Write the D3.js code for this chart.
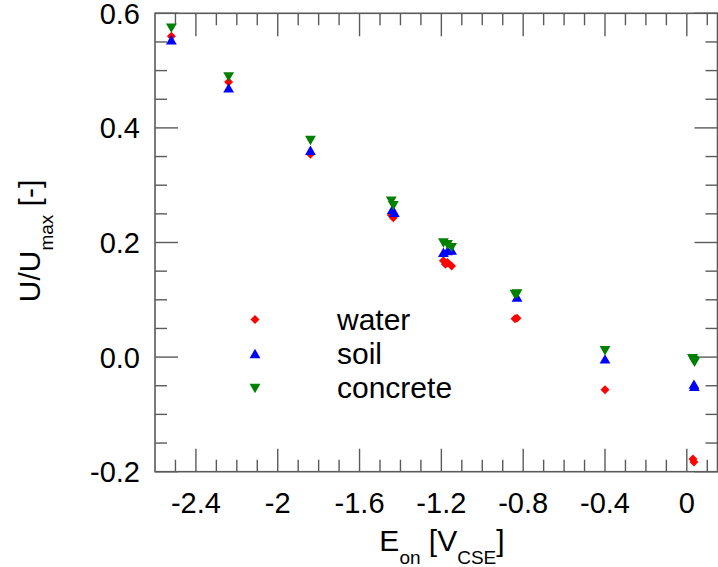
<!DOCTYPE html>
<html>
<head>
<meta charset="utf-8">
<script src="https://cdn.jsdelivr.net/npm/d3@7"></script>
<style>
  body { margin: 0; background: #fff; }
  text { font-family: "Liberation Sans", Arial, sans-serif; fill: #000; }
</style>
</head>
<body>
<svg id="chart" width="718" height="567"></svg>
<script>
// values: [E_on, U/Umax]
var water = [
  [-2.52, 0.560], [-2.24, 0.480], [-1.84, 0.354],
  [-1.445, 0.248], [-1.435, 0.243],
  [-1.19, 0.168], [-1.18, 0.162], [-1.17, 0.165], [-1.15, 0.159],
  [-0.84, 0.067], [-0.83, 0.068],
  [-0.40, -0.057],
  [0.03, -0.178], [0.035, -0.183]
];
var soil = [
  [-2.52, 0.553], [-2.24, 0.469], [-1.84, 0.360],
  [-1.44, 0.257], [-1.43, 0.252],
  [-1.19, 0.182], [-1.17, 0.185], [-1.15, 0.186],
  [-0.83, 0.104],
  [-0.40, -0.004],
  [0.035, -0.048], [0.037, -0.052]
];
var concrete = [
  [-2.52, 0.575], [-2.24, 0.490], [-1.84, 0.379],
  [-1.445, 0.273], [-1.435, 0.265],
  [-1.19, 0.200], [-1.17, 0.197], [-1.15, 0.192],
  [-0.84, 0.110], [-0.83, 0.111],
  [-0.40, 0.012],
  [0.028, -0.002], [0.033, -0.005], [0.038, -0.008]
];
var seriesNames = ["water", "soil", "concrete"];
var seriesColors = ["#ff0000", "#0000ff", "#008000"];
var xMajorTicks = [-2.4, -2, -1.6, -1.2, -0.8, -0.4, 0];
var yMajorTicks = [-0.2, 0, 0.2, 0.4, 0.6];

(function () {
  var svg = d3.select("#chart");
  var pLeft = 155, pRight = 717.5, pTop = 13.3, pBottom = 471.7;

  var x = d3.scaleLinear().domain([-2.6, 0.15]).range([pLeft, pRight]);
  var y = d3.scaleLinear().domain([-0.2, 0.6]).range([pBottom, pTop]);

  var axisColor = "#5a5a5a";
  var majorLen = 23, minorLen = 12;

  // minor tick values
  var xMinor = d3.range(-25, 2).map(function (d) { return d / 10; })
    .filter(function (v) { return Math.abs(Math.round(v * 10) % 4) != 0; });
  var yMinor = d3.range(-4, 13).map(function (d) { return d / 20; })
    .filter(function (v) { return Math.abs(Math.round(v * 20) % 4) != 0; });

  var ticks = svg.append("g").attr("stroke", axisColor).attr("stroke-width", 1.4);
  function xTicks(vals, len) {
    vals.forEach(function (v) {
      ticks.append("line").attr("x1", x(v)).attr("x2", x(v)).attr("y1", pBottom).attr("y2", pBottom - len);
      ticks.append("line").attr("x1", x(v)).attr("x2", x(v)).attr("y1", pTop).attr("y2", pTop + len);
    });
  }
  function yTicks(vals, len) {
    vals.forEach(function (v) {
      ticks.append("line").attr("x1", pLeft).attr("x2", pLeft + len).attr("y1", y(v)).attr("y2", y(v));
      ticks.append("line").attr("x1", pRight).attr("x2", pRight - len).attr("y1", y(v)).attr("y2", y(v));
    });
  }
  xTicks(xMajorTicks, majorLen);
  xTicks(xMinor, minorLen);
  yTicks(yMajorTicks, majorLen);
  yTicks(yMinor, minorLen);

  svg.append("rect")
    .attr("x", pLeft).attr("y", pTop)
    .attr("width", pRight - pLeft).attr("height", pBottom - pTop)
    .attr("fill", "none").attr("stroke", axisColor).attr("stroke-width", 1.6);

  // tick labels (plain hyphen as minus, like the original)
  svg.append("g").selectAll("text").data(xMajorTicks).enter().append("text")
    .attr("x", function (d) { return x(d); })
    .attr("y", 513)
    .attr("text-anchor", "middle")
    .attr("font-size", 29)
    .text(function (d) { return String(d); });

  svg.append("g").selectAll("text").data(yMajorTicks).enter().append("text")
    .attr("x", 140)
    .attr("y", function (d) { return y(d); })
    .attr("dy", "0.36em")
    .attr("text-anchor", "end")
    .attr("font-size", 29)
    .text(function (d) { return d.toFixed(1); });

  // axis titles
  var xt = svg.append("text").attr("x", 442).attr("y", 551).attr("text-anchor", "middle").attr("font-size", 30);
  xt.append("tspan").text("E");
  xt.append("tspan").attr("dy", 13).attr("font-size", 19).text("on");
  xt.append("tspan").attr("dy", -13).text(" [V");
  xt.append("tspan").attr("dy", 13).attr("font-size", 19).text("CSE");
  xt.append("tspan").attr("dy", -13).text("]");

  var yt = svg.append("text").attr("transform", "translate(40,241) rotate(-90)")
    .attr("text-anchor", "middle").attr("font-size", 30);
  yt.append("tspan").text("U/U");
  yt.append("tspan").attr("dy", 13).attr("font-size", 19).text("max");
  yt.append("tspan").attr("dy", -13).text(" [-]");

  // markers
  var diamond = d3.symbol().type(d3.symbolSquare).size(40);
  var triUp = "M0,-5.2L5.4,4.2L-5.4,4.2Z";
  var triDown = "M0,5.2L5.4,-4.2L-5.4,-4.2Z";
  function markerPath(i) { return i == 0 ? diamond() : (i == 1 ? triUp : triDown); }
  function markerRot(i) { return i == 0 ? " rotate(45)" : ""; }

  var allSeries = [water, soil, concrete];
  allSeries.forEach(function (data, i) {
    svg.append("g").selectAll("path").data(data).enter().append("path")
      .attr("d", markerPath(i))
      .attr("transform", function (d) { return "translate(" + x(d[0]) + "," + y(d[1]) + ")" + markerRot(i); })
      .attr("fill", seriesColors[i]);
  });

  // legend
  var legendY = [319.5, 354, 388];
  var legend = svg.append("g");
  seriesNames.forEach(function (name, i) {
    legend.append("path")
      .attr("d", markerPath(i))
      .attr("transform", "translate(255," + legendY[i] + ")" + markerRot(i))
      .attr("fill", seriesColors[i]);
    legend.append("text")
      .attr("x", 337).attr("y", legendY[i] + 10)
      .attr("font-size", 30)
      .text(name);
  });
})();
</script>
</body>
</html>
